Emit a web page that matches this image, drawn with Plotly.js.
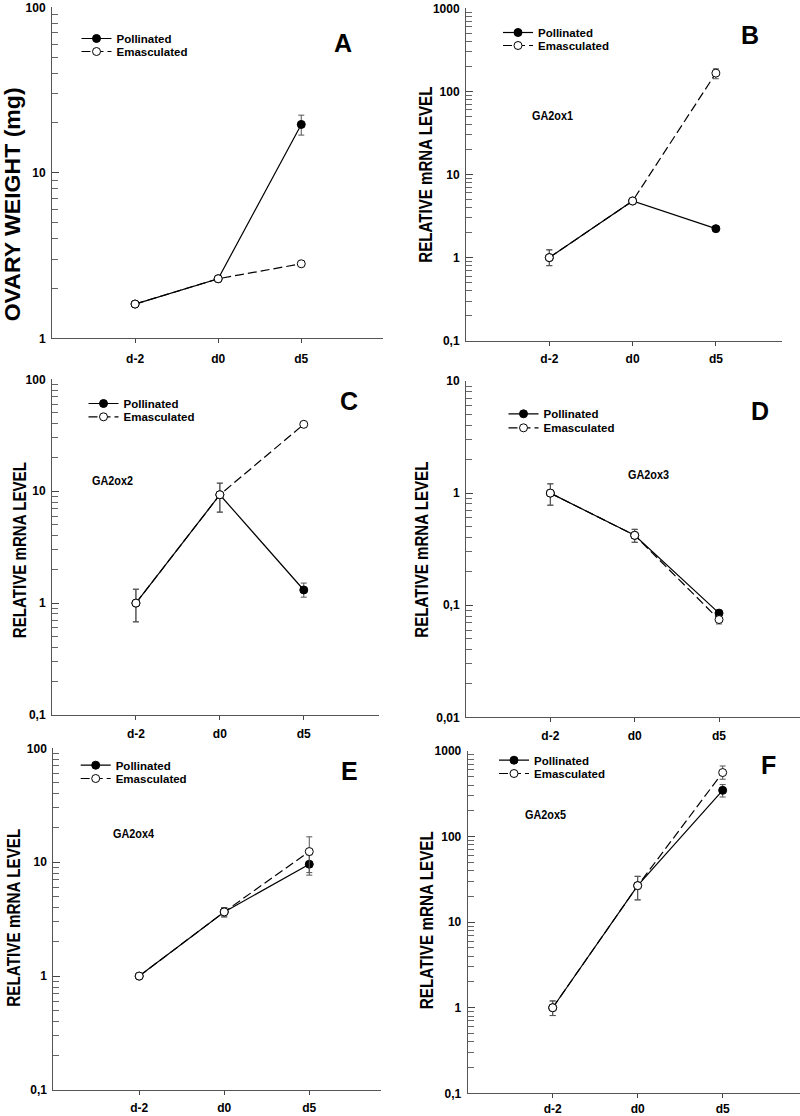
<!DOCTYPE html>
<html><head><meta charset="utf-8">
<script src="https://cdn.plot.ly/plotly-3.0.1.min.js"></script>
<style>html,body{margin:0;padding:0;background:#fff}</style>
</head><body><div id="chart" style="width:800px;height:1116px"></div>
<script>
// ---------- DATA ----------
const categories = ['d-2', 'd0', 'd5'];
const seriesNames = ['Pollinated', 'Emasculated'];

// Panel A: ovary weight (mg)
const A_poll = [1.61, 2.29, 19.6];
const A_pollPlus = [0.03, 0.04, 2.7];
const A_pollMinus = [0.03, 0.04, 2.7];
const A_emas = [1.61, 2.29, 2.82];
const A_emasPlus = [0.03, 0.04, 0.05];
const A_emasMinus = [0.03, 0.04, 0.05];

// Panel B: GA2ox1
const B_poll = [1.0, 4.8, 2.23];
const B_pollPlus = [0.24, 0.3, 0.12];
const B_pollMinus = [0.2, 0.3, 0.12];
const B_emas = [1.0, 4.8, 166];
const B_emasPlus = [0.24, 0.3, 21];
const B_emasMinus = [0.2, 0.3, 24];

// Panel C: GA2ox2
const C_poll = [1.0, 9.3, 1.31];
const C_pollPlus = [0.33, 2.5, 0.2];
const C_pollMinus = [0.32, 2.8, 0.18];
const C_emas = [1.0, 9.3, 39.6];
const C_emasPlus = [0.33, 2.5, 1.5];
const C_emasMinus = [0.32, 2.8, 1.5];

// Panel D: GA2ox3
const D_poll = [1.0, 0.42, 0.085];
const D_pollPlus = [0.21, 0.055, 0.004];
const D_pollMinus = [0.22, 0.056, 0.004];
const D_emas = [1.0, 0.42, 0.0745];
const D_emasPlus = [0.21, 0.055, 0.005];
const D_emasMinus = [0.22, 0.056, 0.0065];

// Panel E: GA2ox4
const E_poll = [1.0, 3.66, 9.6];
const E_pollPlus = [0.03, 0.34, 2.0];
const E_pollMinus = [0.03, 0.35, 1.9];
const E_emas = [1.0, 3.66, 12.4];
const E_emasPlus = [0.03, 0.34, 4.3];
const E_emasMinus = [0.03, 0.35, 4.3];

// Panel F: GA2ox5
const F_poll = [1.0, 26.7, 347];
const F_pollPlus = [0.2, 7.6, 58];
const F_pollMinus = [0.19, 8.5, 57];
const F_emas = [1.0, 26.7, 560];
const F_emasPlus = [0.2, 7.6, 108];
const F_emasMinus = [0.19, 8.5, 92];

// Tick labels
const ticksA_vals = [1, 10, 100];            const ticksA_text = ['1', '10', '100'];
const ticksB_vals = [0.1, 1, 10, 100, 1000]; const ticksB_text = ['0,1', '1', '10', '100', '1000'];
const ticksC_vals = [0.1, 1, 10, 100];       const ticksC_text = ['0,1', '1', '10', '100'];
const ticksD_vals = [0.01, 0.1, 1, 10];      const ticksD_text = ['0,01', '0,1', '1', '10'];
const ticksE_vals = [0.1, 1, 10, 100];       const ticksE_text = ['0,1', '1', '10', '100'];
const ticksF_vals = [0.1, 1, 10, 100, 1000]; const ticksF_text = ['0,1', '1', '10', '100', '1000'];

const panelLetters = ['A', 'B', 'C', 'D', 'E', 'F'];
const geneLabels = ['', 'GA2ox1', 'GA2ox2', 'GA2ox3', 'GA2ox4', 'GA2ox5'];
const yTitles = ['OVARY WEIGHT (mg)', 'RELATIVE mRNA LEVEL', 'RELATIVE mRNA LEVEL',
                 'RELATIVE mRNA LEVEL', 'RELATIVE mRNA LEVEL', 'RELATIVE mRNA LEVEL'];

// ---------- LAYOUT GEOMETRY (pixels) ----------
const W = 800, H = 1116;
const FONT = 'Liberation Sans, Arial, Helvetica, sans-serif';
const fx = px => px / W;
const fy = py => 1 - py / H;
const LEG_OFF = 15; // legend top -> row centre

const panels = [
  {poll: A_poll, pp: A_pollPlus, pm: A_pollMinus, emas: A_emas, ep: A_emasPlus, em: A_emasMinus,
   tv: ticksA_vals, tt: ticksA_text, yr: [0, 2],
   box: {x0: 52, x1: 382.7, y0: 7.3, y1: 338.3}, xr: [-1, 2.98], xstand: 5,
   legX: 76.5, rows: [39, 52], letter: [343, 43], gene: null,
   title: [13, 205], titleSize: 22, titleLen: 234},
  {poll: B_poll, pp: B_pollPlus, pm: B_pollMinus, emas: B_emas, ep: B_emasPlus, em: B_emasMinus,
   tv: ticksB_vals, tt: ticksB_text, yr: [-1, 3],
   box: {x0: 466, x1: 781.7, y0: 8.3, y1: 340.7}, xr: [-1, 2.79], xstand: 3,
   legX: 498, rows: [33, 46], letter: [750, 35], gene: [552, 116],
   title: [425, 174.5], titleSize: 19, titleLen: 176},
  {poll: C_poll, pp: C_pollPlus, pm: C_pollMinus, emas: C_emas, ep: C_emasPlus, em: C_emasMinus,
   tv: ticksC_vals, tt: ticksC_text, yr: [-1, 2],
   box: {x0: 52, x1: 379.3, y0: 379.3, y1: 715}, xr: [-1, 2.9], xstand: 4,
   legX: 83.5, rows: [404, 417.3], letter: [349, 400.5], gene: [112, 480],
   title: [20, 550], titleSize: 19, titleLen: 176},
  {poll: D_poll, pp: D_pollPlus, pm: D_pollMinus, emas: D_emas, ep: D_emasPlus, em: D_emasMinus,
   tv: ticksD_vals, tt: ticksD_text, yr: [-2, 1],
   box: {x0: 466, x1: 800, y0: 381, y1: 717.3}, xr: [-1, 2.96], xstand: 3,
   legX: 503.5, rows: [414.3, 428.3], letter: [760, 411], gene: [648, 474],
   title: [421, 549.5], titleSize: 19, titleLen: 176},
  {poll: E_poll, pp: E_pollPlus, pm: E_pollMinus, emas: E_emas, ep: E_emasPlus, em: E_emasMinus,
   tv: ticksE_vals, tt: ticksE_text, yr: [-1, 2],
   box: {x0: 53.3, x1: 380.7, y0: 748.3, y1: 1090}, xr: [-1.01, 2.84], xstand: 3,
   legX: 75.7, rows: [765.7, 779], letter: [349, 770.5], gene: [134, 833],
   title: [12.5, 918], titleSize: 19, titleLen: 178},
  {poll: F_poll, pp: F_pollPlus, pm: F_pollMinus, emas: F_emas, ep: F_emasPlus, em: F_emasMinus,
   tv: ticksF_vals, tt: ticksF_text, yr: [-1, 3],
   box: {x0: 467.7, x1: 800, y0: 751, y1: 1093.3}, xr: [-1, 2.91], xstand: 0,
   legX: 494, rows: [760.7, 774], letter: [768, 765], gene: [545, 814],
   title: [426, 920], titleSize: 19, titleLen: 178}
];

// minor log ticks (2..9 within every decade of the axis range)
function minorTicks(yr) {
  const out = [];
  for (let k = yr[0]; k < yr[1]; k++) for (let d = 2; d <= 9; d++) out.push(d * Math.pow(10, k));
  return out;
}

const AXIS_COLOR = '#555';
const traces = [];
const titleIdx = [];
const geneIdx = [];
const layout = {
  width: W, height: H,
  margin: {l: 0, r: 0, t: 0, b: 0},
  paper_bgcolor: '#fff', plot_bgcolor: 'rgba(0,0,0,0)',
  font: {family: FONT, color: '#000'},
  showlegend: true,
  annotations: []
};

let legCount = 0;
panels.forEach((p, i) => {
  const n = i + 1;
  const sfx = n === 1 ? '' : String(n);
  const errStyle = {color: AXIS_COLOR, thickness: 1, width: 3};
  const legNames = [0, 1].map(() => {
    legCount += 1;
    return legCount === 1 ? 'legend' : 'legend' + legCount;
  });

  traces.push({
    type: 'scatter', mode: 'lines+markers', name: seriesNames[0],
    x: categories, y: p.poll, xaxis: 'x' + sfx, yaxis: 'y' + sfx, legend: legNames[0],
    line: {color: '#000', width: 1.2},
    marker: {symbol: 'circle', size: 8, color: '#000', line: {color: '#000', width: 1}},
    error_y: Object.assign({type: 'data', symmetric: false, array: p.pp, arrayminus: p.pm}, errStyle)
  });
  traces.push({
    type: 'scatter', mode: 'lines+markers', name: seriesNames[1],
    x: categories, y: p.emas, xaxis: 'x' + sfx, yaxis: 'y' + sfx, legend: legNames[1],
    line: {color: '#000', width: 1.2, dash: '9px,4px'},
    marker: {symbol: 'circle', size: 8, color: '#fff', line: {color: '#000', width: 1}},
    error_y: Object.assign({type: 'data', symmetric: false, array: p.ep, arrayminus: p.em}, errStyle)
  });

  layout['xaxis' + sfx] = {
    type: 'category', categoryorder: 'array', categoryarray: categories,
    domain: [fx(p.box.x0), fx(p.box.x1)], range: p.xr, anchor: 'y' + sfx,
    showline: true, linecolor: AXIS_COLOR, linewidth: 1, mirror: false,
    ticks: 'outside', ticklen: 4, tickcolor: '#444', tickwidth: 1,
    ticklabelstandoff: p.xstand,
    tickfont: {family: FONT, size: 12, color: '#000', weight: 'bold'},
    showgrid: false, zeroline: false, fixedrange: true
  };
  layout['yaxis' + sfx] = {
    type: 'log', domain: [fy(p.box.y1), fy(p.box.y0)], range: p.yr, anchor: 'x' + sfx,
    showline: true, linecolor: AXIS_COLOR, linewidth: 1,
    ticks: 'inside', ticklen: 7, tickcolor: '#444', tickwidth: 1,
    tickmode: 'array', tickvals: p.tv, ticktext: p.tt,
    ticklabelstandoff: 3,
    tickfont: {family: FONT, size: 12, color: '#000', weight: 'bold'},
    minor: {ticks: 'inside', ticklen: 6, tickcolor: '#666', tickwidth: 1,
            tickmode: 'array', tickvals: minorTicks(p.yr), showgrid: false},
    showgrid: false, zeroline: false, fixedrange: true
  };
  legNames.forEach((ln, r) => {
    layout[ln] = {
      x: fx(p.legX), y: fy(p.rows[r] - LEG_OFF), xanchor: 'left', yanchor: 'top',
      bgcolor: 'rgba(0,0,0,0)', borderwidth: 0,
      font: {family: FONT, size: 11.5, color: '#000', weight: 'bold'}
    };
  });

  layout.annotations.push({
    xref: 'paper', yref: 'paper', x: fx(p.letter[0]), y: fy(p.letter[1]),
    text: panelLetters[i], showarrow: false, xanchor: 'center', yanchor: 'middle',
    font: {family: FONT, size: 25, weight: 'bold', color: '#000'}
  });
  if (p.gene) {
    geneIdx.push(layout.annotations.length);
    layout.annotations.push({
      xref: 'paper', yref: 'paper', x: fx(p.gene[0]), y: fy(p.gene[1]),
      text: geneLabels[i], showarrow: false, xanchor: 'center', yanchor: 'middle',
      font: {family: FONT, size: 13, weight: 'bold', color: '#000'}
    });
  }
  titleIdx.push([layout.annotations.length, p.titleLen]);
  layout.annotations.push({
    xref: 'paper', yref: 'paper', x: fx(p.title[0]), y: fy(p.title[1]),
    text: yTitles[i], showarrow: false, textangle: -90, xanchor: 'center', yanchor: 'middle',
    font: {family: FONT, size: p.titleSize, weight: 'bold', color: '#000'}
  });
});

Plotly.newPlot('chart', traces, layout, {displayModeBar: false, staticPlot: true}).then(gd => {
  // the original figure uses a condensed bold face for the axis titles and gene names
  titleIdx.forEach(([idx, len]) => {
    const t = gd.querySelector('.annotation[data-index="' + idx + '"] text.annotation-text');
    if (t) { t.setAttribute('textLength', len); t.setAttribute('lengthAdjust', 'spacingAndGlyphs'); }
  });
  geneIdx.forEach(idx => {
    const t = gd.querySelector('.annotation[data-index="' + idx + '"] text.annotation-text');
    if (t) { t.setAttribute('textLength', 41); t.setAttribute('lengthAdjust', 'spacingAndGlyphs'); }
  });
});
</script>
</body></html>
